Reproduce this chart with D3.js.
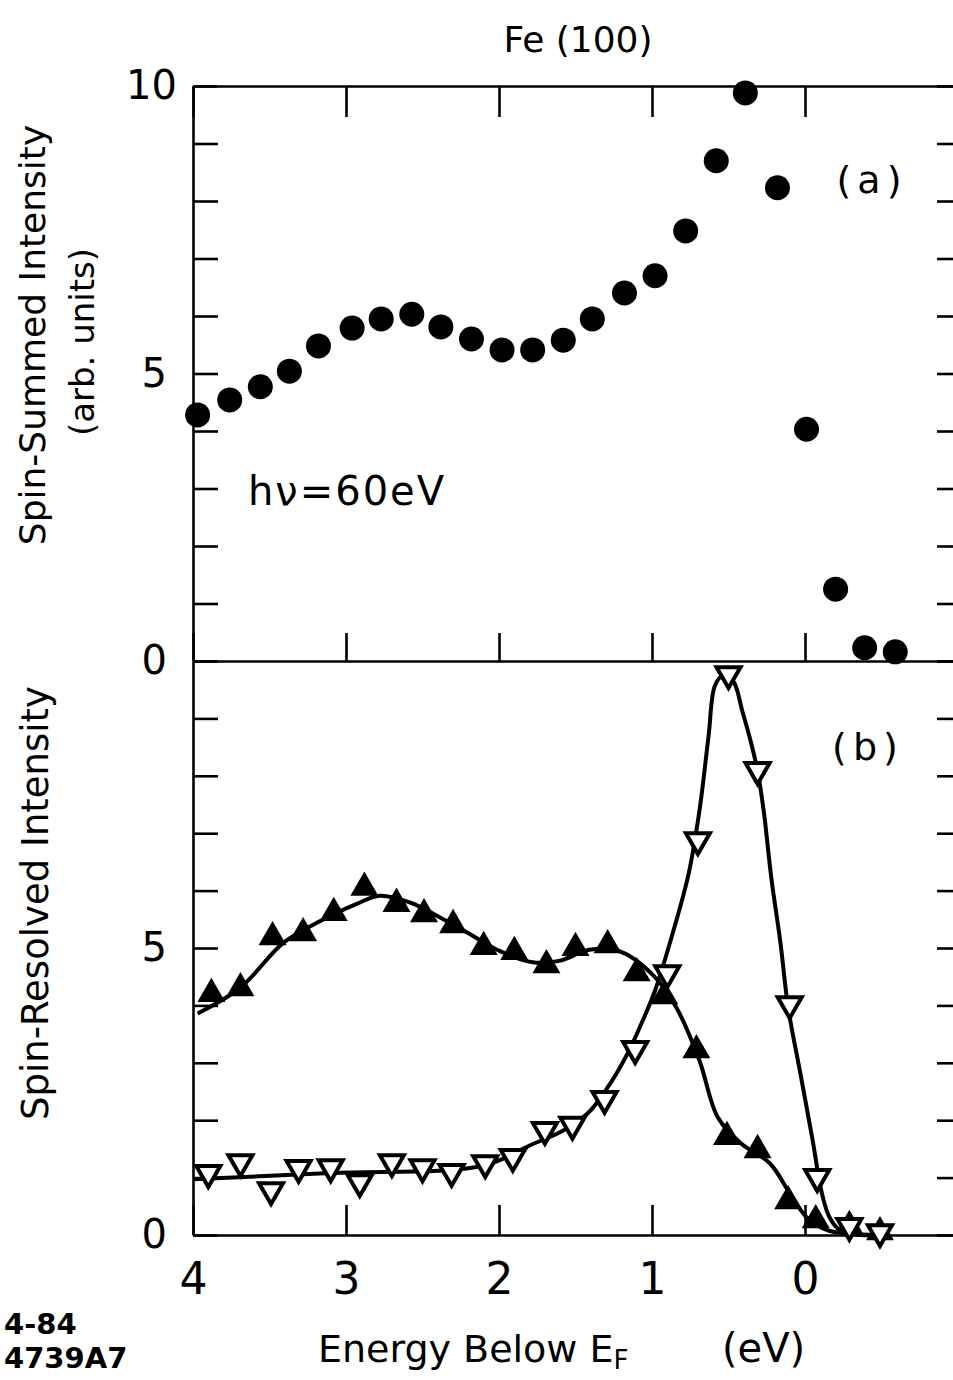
<!DOCTYPE html>
<html>
<head>
<meta charset="utf-8">
<script src="https://cdn.jsdelivr.net/npm/d3@7"></script>
<style>
  body { margin: 0; background: #fff; }
  svg text { font-family: "DejaVu Sans", sans-serif; fill: #000; }
</style>
</head>
<body>
<svg id="chart"></svg>
<script>
// (a) spin-summed intensity, filled circles
const energySummed = [3.97, 3.76, 3.56, 3.37, 3.18, 2.96, 2.77, 2.57, 2.38, 2.18, 1.98, 1.78,
  1.58, 1.39, 1.18, 0.98, 0.78, 0.58, 0.39, 0.18, -0.01, -0.20, -0.39, -0.59];
const intensitySummed = [4.28, 4.54, 4.77, 5.04, 5.48, 5.79, 5.95, 6.03, 5.81, 5.60, 5.41, 5.41,
  5.58, 5.95, 6.40, 6.70, 7.48, 8.70, 9.88, 8.23, 4.03, 1.25, 0.23, 0.16];

// (b) spin-resolved, filled up triangles
const energyUp = [3.88, 3.69, 3.48, 3.28, 3.08, 2.88, 2.67, 2.49, 2.30, 2.10, 1.90, 1.69,
  1.50, 1.29, 1.10, 0.92, 0.71, 0.51, 0.31, 0.11, -0.07, -0.29, -0.49];
const intensityUp = [4.20, 4.30, 5.19, 5.26, 5.61, 6.05, 5.77, 5.59, 5.40, 5.02, 4.93, 4.70,
  5.00, 5.05, 4.56, 4.16, 3.22, 1.71, 1.48, 0.59, 0.26, 0.16, 0.05];

// (b) spin-resolved, open down triangles
const energyDown = [3.90, 3.69, 3.49, 3.31, 3.10, 2.91, 2.70, 2.50, 2.31, 2.09, 1.91, 1.70,
  1.52, 1.31, 1.11, 0.90, 0.70, 0.50, 0.31, 0.10, -0.08, -0.29, -0.49];
const intensityDown = [1.08, 1.27, 0.78, 1.17, 1.18, 0.92, 1.27, 1.18, 1.10, 1.25, 1.36, 1.83,
  1.92, 2.37, 3.24, 4.56, 6.88, 9.77, 8.10, 4.02, 1.01, 0.16, 0.05];

// smooth guide curves drawn through the triangles
const curveUpE = [3.97, 3.69, 3.41, 3.19, 2.93, 2.78, 2.58, 2.37, 2.17, 1.99, 1.78, 1.60,
  1.41, 1.21, 0.99, 0.84, 0.69, 0.57, 0.42, 0.23, 0.10, -0.01, -0.14, -0.29, -0.49];
const curveUpI = [3.86, 4.31, 5.09, 5.44, 5.77, 5.91, 5.79, 5.51, 5.21, 4.94, 4.75, 4.78,
  4.97, 4.94, 4.52, 3.96, 3.04, 2.05, 1.60, 1.25, 0.73, 0.31, 0.09, 0.02, 0.0];
const curveDownE = [4.0, 3.10, 2.10, 1.80, 1.58, 1.42, 1.29, 1.16, 1.06, 0.98, 0.86,
  0.76, 0.69, 0.63, 0.59, 0.54, 0.47, 0.41, 0.35, 0.31, 0.27, 0.22, 0.16, 0.11,
  0.03, -0.05, -0.11, -0.16, -0.23, -0.36, -0.49];
const curveDownI = [0.97, 1.08, 1.21, 1.56, 1.82, 2.12, 2.57, 3.16, 3.74, 4.26, 5.30,
  6.30, 7.39, 8.70, 9.56, 9.74, 9.65, 9.13, 8.55, 8.08, 7.39, 6.22, 5.08, 3.96,
  2.81, 1.65, 0.73, 0.31, 0.08, 0.0, 0.0];

const xTicks = [4, 3, 2, 1, 0];

const width = 953, height = 1380;
const svg = d3.select("#chart").attr("width", width).attr("height", height);

const x = d3.scaleLinear().domain([4, -1]).range([193, 958]);
const yTop = d3.scaleLinear().domain([0, 10]).range([661, 86]);
const yBot = d3.scaleLinear().domain([0, 10]).range([1235, 661]);

function styleAxis(g) {
    g.selectAll("path.domain").attr("stroke", "#000").attr("stroke-width", 2.6);
    g.selectAll(".tick line").attr("stroke", "#000").attr("stroke-width", 2.6);
    g.selectAll(".tick text").attr("font-family", "DejaVu Sans").attr("fill", "#000");
}

const yTicks = d3.range(0, 11);

// left axes with inward ticks
svg.append("g").attr("transform", "translate(193,0)")
    .call(d3.axisLeft(yTop).tickValues(yTicks).tickSizeInner(-25).tickSizeOuter(0).tickPadding(26)
        .tickFormat(d => d % 5 === 0 ? d : ""))
    .call(styleAxis)
    .selectAll(".tick text").attr("font-size", 40)
    .attr("dx", d => d === 10 ? 10 : 0);

svg.append("g").attr("transform", "translate(193,0)")
    .call(d3.axisLeft(yBot).tickValues(yTicks).tickSizeInner(-25).tickSizeOuter(0).tickPadding(26)
        .tickFormat(d => (d === 0 || d === 5) ? d : ""))
    .call(styleAxis)
    .selectAll(".tick text").attr("font-size", 40);

// right axes (frame sits just off the page)
svg.append("g").attr("transform", "translate(958,0)")
    .call(d3.axisRight(yTop).tickValues(yTicks).tickSizeInner(-21).tickSizeOuter(0).tickFormat(""))
    .call(styleAxis);
svg.append("g").attr("transform", "translate(958,0)")
    .call(d3.axisRight(yBot).tickValues(yTicks).tickSizeInner(-21).tickSizeOuter(0).tickFormat(""))
    .call(styleAxis);

// top frame of panel (a)
svg.append("g").attr("transform", "translate(0,86)")
    .call(d3.axisTop(x).tickValues(xTicks).tickSizeInner(-31).tickSizeOuter(0).tickFormat(""))
    .call(styleAxis);

// shared line between panels, ticks pointing up into (a)
svg.append("g").attr("transform", "translate(0,661)")
    .call(d3.axisBottom(x).tickValues(xTicks).tickSizeInner(-28).tickSizeOuter(0).tickFormat(""))
    .call(styleAxis);

// bottom axis of panel (b)
svg.append("g").attr("transform", "translate(0,1235)")
    .call(d3.axisBottom(x).tickValues(xTicks).tickSizeInner(-30).tickSizeOuter(0).tickPadding(28)
        .tickFormat(d => d))
    .call(styleAxis)
    .selectAll(".tick text").attr("font-size", 44);

// panel (a) points
svg.append("g").selectAll("circle")
    .data(energySummed.map((e, i) => [e, intensitySummed[i]]))
    .join("circle")
    .attr("cx", d => x(d[0]))
    .attr("cy", d => yTop(d[1]))
    .attr("r", 12.5)
    .attr("fill", "#000");

// panel (b) curves
const line = d3.line()
    .x(d => x(d[0]))
    .y(d => yBot(d[1]))
    .curve(d3.curveCatmullRom.alpha(0.5));

svg.append("path")
    .datum(curveUpE.map((e, i) => [e, curveUpI[i]]))
    .attr("d", line)
    .attr("fill", "none").attr("stroke", "#000").attr("stroke-width", 4);

svg.append("path")
    .datum(curveDownE.map((e, i) => [e, curveDownI[i]]))
    .attr("d", line)
    .attr("fill", "none").attr("stroke", "#000").attr("stroke-width", 4);

const tri = d3.symbol().type(d3.symbolTriangle);

svg.append("g").selectAll("path")
    .data(energyUp.map((e, i) => [e, intensityUp[i]]))
    .join("path")
    .attr("d", tri.size(340)())
    .attr("transform", d => `translate(${x(d[0])},${yBot(d[1])})`)
    .attr("fill", "#000");

svg.append("g").selectAll("path")
    .data(energyDown.map((e, i) => [e, intensityDown[i]]))
    .join("path")
    .attr("d", tri.size(250)())
    .attr("transform", d => `translate(${x(d[0])},${yBot(d[1])}) rotate(180)`)
    .attr("fill", "#fff")
    .attr("stroke", "#000")
    .attr("stroke-width", 4)
    .attr("stroke-linejoin", "miter");

// titles and annotations
svg.append("text").attr("x", 578).attr("y", 52).attr("text-anchor", "middle")
    .attr("font-size", 36).text("Fe (100)");

svg.append("text").attr("x", 872).attr("y", 193).attr("text-anchor", "middle")
    .attr("font-size", 38).attr("letter-spacing", 6).text("(a)");
svg.append("text").attr("x", 868).attr("y", 760).attr("text-anchor", "middle")
    .attr("font-size", 38).attr("letter-spacing", 6).text("(b)");

svg.append("text").attr("x", 248).attr("y", 505)
    .attr("font-size", 40).attr("letter-spacing", 2).text("hν=60eV");

svg.append("text")
    .attr("transform", "translate(45,335) rotate(-90)")
    .attr("text-anchor", "middle").attr("font-size", 36)
    .text("Spin-Summed Intensity");
svg.append("text")
    .attr("transform", "translate(94,342) rotate(-90)")
    .attr("text-anchor", "middle").attr("font-size", 34)
    .text("(arb. units)");
svg.append("text")
    .attr("transform", "translate(48,903) rotate(-90)")
    .attr("text-anchor", "middle").attr("font-size", 37)
    .text("Spin-Resolved Intensity");

const xt = svg.append("text").attr("x", 318).attr("y", 1362).attr("font-size", 38);
xt.append("tspan").text("Energy Below E");
xt.append("tspan").attr("font-size", 26).attr("dy", 7).text("F");
xt.append("tspan").attr("dy", -7).attr("x", 722).attr("font-size", 40).text("(eV)");

svg.append("text").attr("x", 4).attr("y", 1334).attr("font-size", 29).attr("font-weight", "bold").text("4-84");
svg.append("text").attr("x", 4).attr("y", 1368).attr("font-size", 29).attr("font-weight", "bold").text("4739A7");
</script>
</body>
</html>
